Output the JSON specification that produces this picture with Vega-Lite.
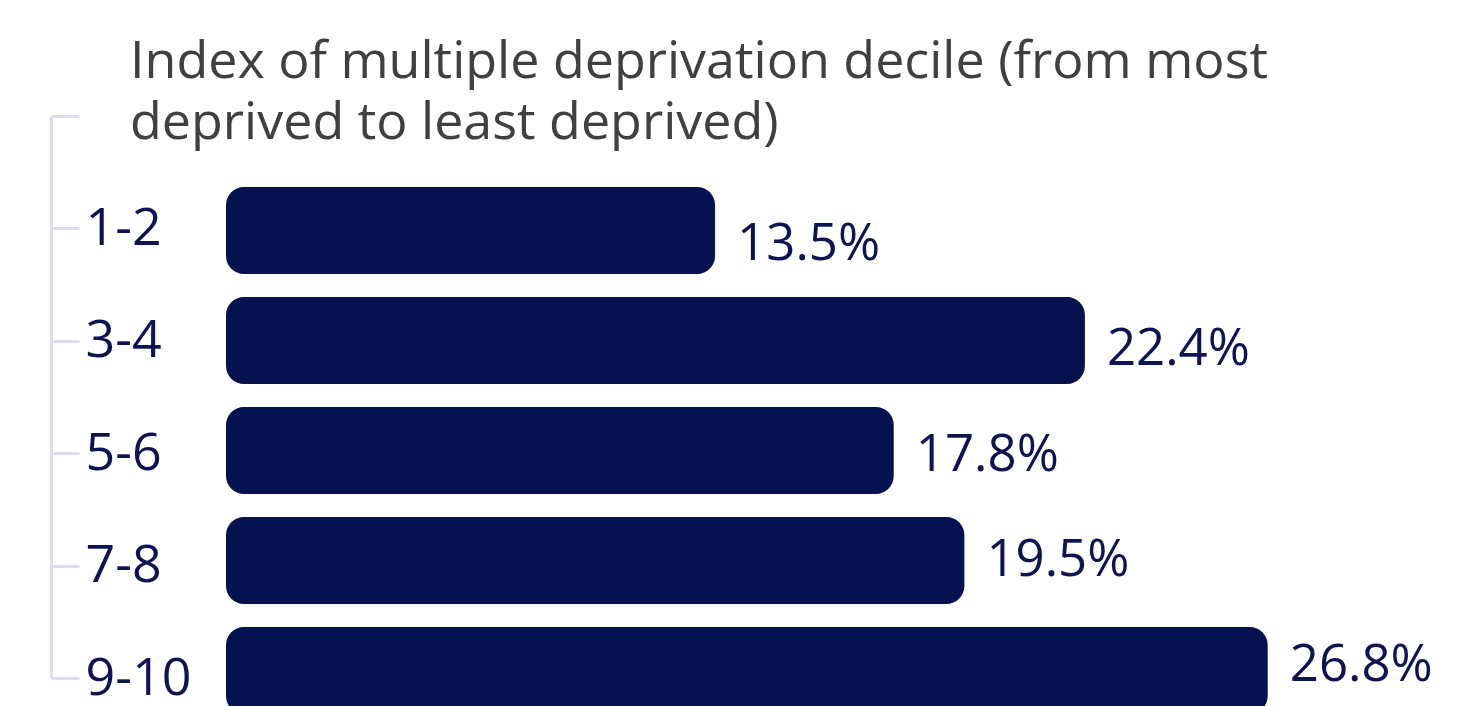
{
  "$schema": "https://vega.github.io/schema/vega-lite/v6.json",
  "width": 1242,
  "height": 562,
  "autosize": {"type": "none"},
  "padding": {"left": 226, "top": 116, "right": 0, "bottom": 28},
  "background": "#ffffff",
  "config": {"view": {"stroke": null}},
  "title": {
    "text": ["Index of multiple deprivation decile (from most", "deprived to least deprived)"],
    "anchor": "start",
    "frame": "group",
    "dx": -96,
    "offset": -60,
    "font": "Open Sans",
    "fontSize": 52,
    "fontWeight": "normal",
    "lineHeight": 61,
    "color": "#404040"
  },
  "data": {
    "values": [
      {"decile": "1-2", "value": 13.5, "label": "13.5%"},
      {"decile": "3-4", "value": 22.4, "label": "22.4%"},
      {"decile": "5-6", "value": 17.8, "label": "17.8%"},
      {"decile": "7-8", "value": 19.5, "label": "19.5%"},
      {"decile": "9-10", "value": 26.8, "label": "26.8%"}
    ]
  },
  "resolve": {"scale": {"y": "independent"}, "axis": {"y": "independent"}},
  "layer": [
    {
      "mark": {"type": "bar", "color": "#061150", "cornerRadius": 18},
      "encoding": {
        "y": {"field": "decile", "type": "nominal", "axis": null,
              "scale": {"domain": ["1-2", "3-4", "5-6", "7-8", "9-10"], "range": [71, 598], "paddingInner": 0.209, "paddingOuter": 0}},
        "x": {"field": "value", "type": "quantitative", "axis": null,
              "scale": {"domain": [1.73, 31.62], "zero": false}},
        "x2": {"datum": 1.73}
      }
    },
    {
      "mark": {"type": "text", "align": "left", "baseline": "middle", "dx": 22, "dy": 5, "font": "Open Sans", "fontSize": 51, "color": "#0c1552"},
      "encoding": {
        "y": {"field": "decile", "type": "nominal", "axis": null,
              "scale": {"domain": ["1-2", "3-4", "5-6", "7-8", "9-10"], "range": [71, 598], "paddingInner": 0.209, "paddingOuter": 0}},
        "x": {"field": "value", "type": "quantitative", "axis": null,
              "scale": {"domain": [1.73, 31.62], "zero": false}},
        "text": {"field": "label"}
      }
    },
    {
      "mark": {"type": "point", "opacity": 0},
      "encoding": {
        "y": {"field": "decile", "type": "ordinal",
              "scale": {"type": "point", "domain": ["", "1-2", "3-4", "5-6", "7-8", "9-10"], "padding": 0},
              "axis": {"orient": "left", "offset": 175, "title": null, "grid": false,
                       "domainColor": "#dedcee", "domainWidth": 3,
                       "tickColor": "#dedcee", "tickWidth": 3, "tickSize": -28,
                       "labelAlign": "left", "labelPadding": -6, "labelBaseline": "middle", "labelDy": 5,
                       "labelFont": "Open Sans", "labelFontSize": 52, "labelColor": "#0c1552"}},
        "x": {"field": "value", "type": "quantitative", "axis": null,
              "scale": {"domain": [1.73, 31.62], "zero": false}}
      }
    }
  ]
}
